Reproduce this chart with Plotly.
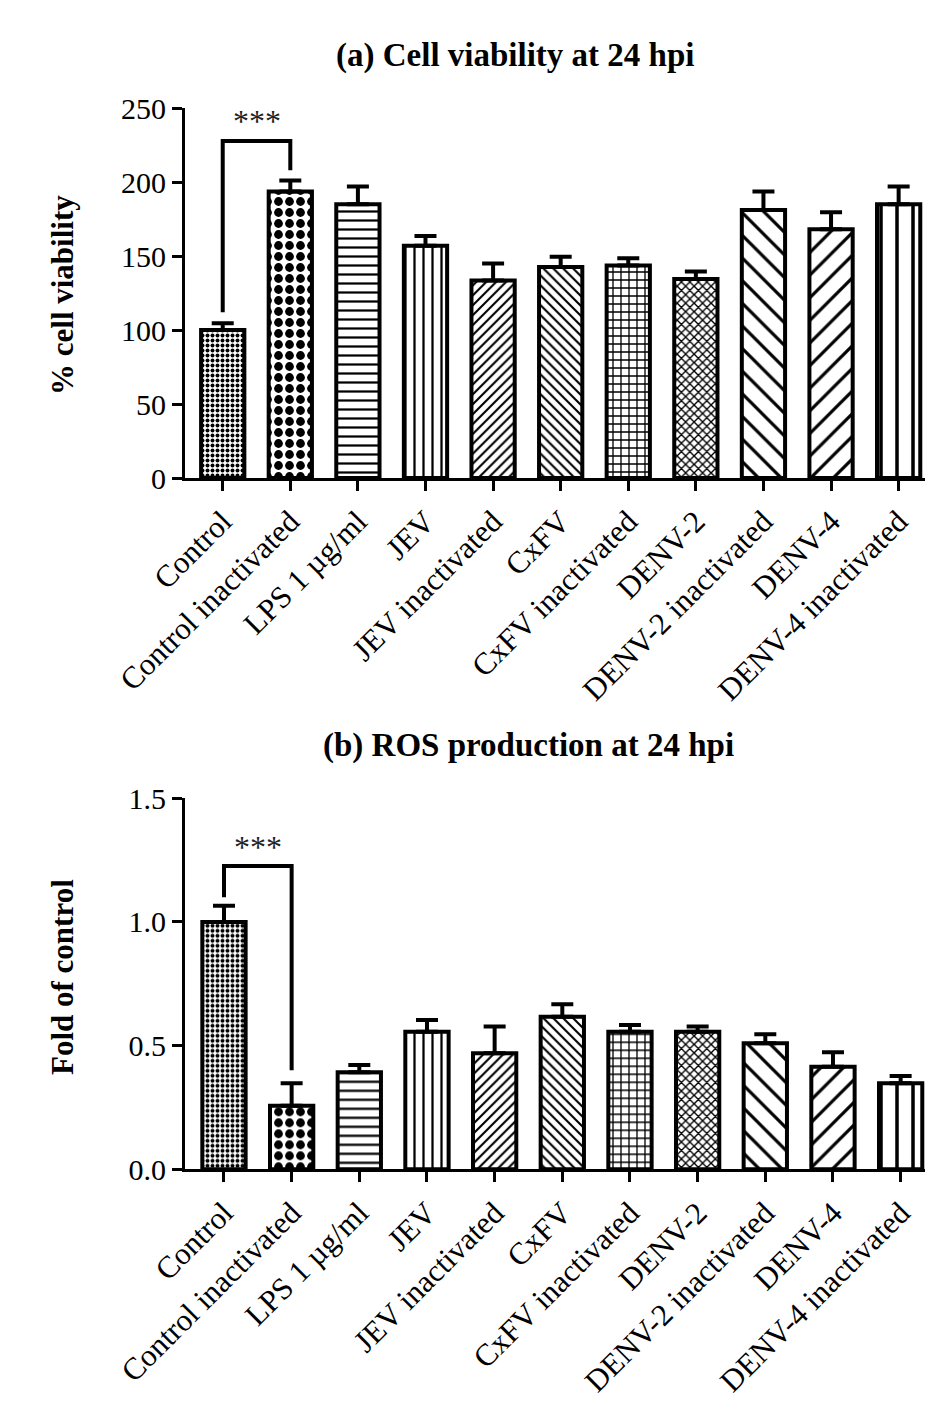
import plotly.graph_objects as go

# ---------------- data ----------------
categories = ["Control", "Control inactivated", "LPS 1 µg/ml", "JEV", "JEV inactivated",
              "CxFV", "CxFV inactivated", "DENV-2", "DENV-2 inactivated", "DENV-4",
              "DENV-4 inactivated"]

viability = [100, 193.5, 185, 157, 133.5, 142.5, 143.5, 134.5, 181, 168, 185]
viability_err = [4.5, 7.5, 12, 6.5, 11.5, 7, 5, 5, 12.5, 11.5, 12]

ros = [1.0, 0.257, 0.392, 0.556, 0.469, 0.617, 0.556, 0.556, 0.51, 0.415, 0.348]
ros_err = [0.066, 0.091, 0.03, 0.048, 0.108, 0.05, 0.027, 0.021, 0.036, 0.058, 0.029]

viability_ticks = [0, 50, 100, 150, 200, 250]
ros_ticks = [0.0, 0.5, 1.0, 1.5]

# significance brackets: (left leg bottom, top, right leg bottom, star level)
viab_bracket = [112, 227.7, 208, 241]
ros_bracket = [1.10, 1.226, 0.40, 1.305]

# ---------------- style ----------------
pat_shapes = [".", ".", "-", "|", "/", "\\", "+", "x", "\\", "/", "|"]
pat_sizes = [5, 11, 9, 9, 7, 7, 8, 6, 16, 16, 16]
pat_solid = [0.5, 0.5, 0.25, 0.25, 0.3, 0.3, 0.3, 0.4, 0.2, 0.2, 0.22]

FONT = "Liberation Serif"
W, H = 925, 1418
xs = list(range(len(categories)))

fig = go.Figure()


def add_panel(vals, errs, xa, ya):
    fig.add_trace(go.Bar(
        x=xs, y=vals, width=0.64, xaxis=xa, yaxis=ya,
        marker=dict(color="white", line=dict(color="black", width=4),
                    pattern=dict(shape=pat_shapes, size=pat_sizes, solidity=pat_solid,
                                 fgcolor="black", bgcolor="white", fgopacity=1,
                                 fillmode="replace")),
        error_y=dict(type="data", symmetric=False, array=errs, arrayminus=[0] * len(errs),
                     color="black", thickness=4, width=11),
        showlegend=False, hoverinfo="skip"))


def add_bracket(br, xa, ya):
    fig.add_trace(go.Scatter(
        x=[xs[0], xs[0], xs[1], xs[1]], y=[br[0], br[1], br[1], br[2]],
        mode="lines", line=dict(color="black", width=4),
        xaxis=xa, yaxis=ya, showlegend=False, hoverinfo="skip"))
    fig.add_annotation(x=(xs[0] + xs[1]) / 2, y=br[3], xref=xa, yref=ya,
                       xanchor="center", yanchor="middle",
                       text="***", showarrow=False,
                       font=dict(family=FONT, size=32, color="#222"))


add_panel(viability, viability_err, "x", "y")
add_bracket(viab_bracket, "x", "y")
add_panel(ros, ros_err, "x2", "y2")
add_bracket(ros_bracket, "x2", "y2")

xcommon = dict(tickmode="array", tickvals=xs, ticktext=categories, tickangle=-45,
               ticks="outside", ticklen=10, tickwidth=3, tickcolor="black",
               showline=True, linecolor="black", linewidth=3, showgrid=False,
               zeroline=False, automargin=False,
               tickfont=dict(family=FONT, size=31, color="black"))
ycommon = dict(ticks="outside", ticklen=10, tickwidth=3, tickcolor="black",
               showline=True, linecolor="black", linewidth=3, showgrid=False,
               zeroline=False, automargin=False,
               tickfont=dict(family=FONT, size=30, color="black"))

fig.update_layout(
    template="none",
    width=W, height=H,
    margin=dict(l=0, r=0, t=0, b=0, pad=0),
    paper_bgcolor="white", plot_bgcolor="white",
    font=dict(family=FONT, color="black"),
    xaxis=dict(domain=[185 / W, 1.0], range=[-0.558, 10.39], anchor="y", **xcommon),
    yaxis=dict(domain=[1 - 478 / H, 1 - 108 / H], range=[0, 250], tickvals=viability_ticks,
               anchor="x", **ycommon),
    xaxis2=dict(domain=[185 / W, 1.0], range=[-0.576, 10.36], anchor="y2", **xcommon),
    yaxis2=dict(domain=[1 - 1169.3 / H, 1 - 798.3 / H], range=[0, 1.5], tickvals=ros_ticks,
                tickformat=".1f", anchor="x2", **ycommon),
)


def label(text, x, y, size, angle=0):
    fig.add_annotation(x=x / W, y=1 - y / H, xref="paper", yref="paper",
                       xanchor="center", yanchor="middle", textangle=angle,
                       text=text, showarrow=False,
                       font=dict(family=FONT, size=size, color="black"))


label("<b>(a) Cell viability at 24 hpi</b>", 515, 55, 33)
label("<b>(b) ROS production at 24 hpi</b>", 528, 745, 33)
label("<b>% cell viability</b>", 62, 295, 31, -90)
label("<b>Fold of control</b>", 62, 977, 31, -90)

fig.write_html("out.html", config={"displayModeBar": False},
               post_script="document.body.style.margin='0';")
